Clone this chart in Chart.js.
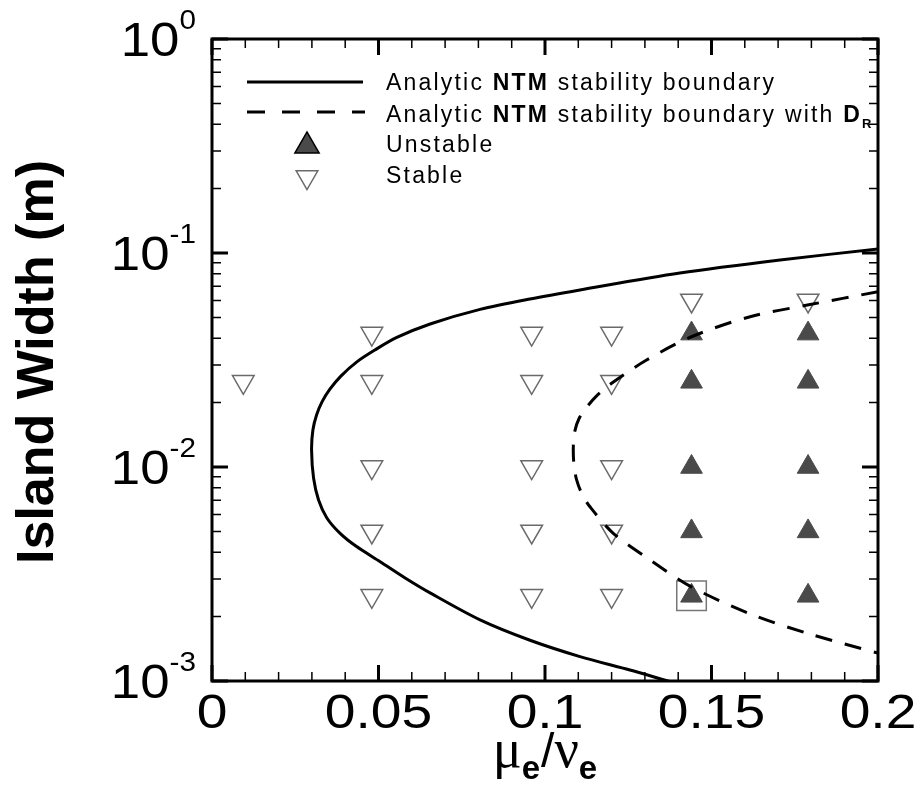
<!DOCTYPE html>
<html><head><meta charset="utf-8">
<script src="https://cdn.jsdelivr.net/npm/chart.js@4.4.1/dist/chart.umd.min.js"></script>
<style>html,body{margin:0;padding:0;background:#fff;}#wrap{width:918px;height:787px;}</style>
</head><body><div id="wrap"><canvas id="c" width="918" height="787"></canvas></div>
<script>
// ---- data ----
const solidX = [0.2000, 0.1706, 0.1405, 0.1105, 0.0955, 0.0805, 0.0655, 0.0555, 0.0489, 0.0435, 0.0387, 0.0354, 0.0330, 0.0314, 0.0303, 0.0299, 0.0305, 0.0320, 0.0345, 0.0384, 0.0432, 0.0505, 0.0580, 0.0655, 0.0805, 0.0955, 0.1105, 0.1255, 0.1369, 0.1465];
const solidY = [0.1044, 0.0928, 0.0806, 0.0672, 0.0610, 0.0545, 0.0466, 0.0403, 0.0352, 0.0310, 0.0266, 0.0231, 0.0201, 0.0175, 0.0149, 0.0120, 0.00888, 0.00701, 0.00578, 0.00491, 0.00427, 0.00361, 0.00303, 0.00258, 0.00193, 0.00155, 0.00130, 0.001125, 0.0010, 0.000908];
const dashX = [0.200, 0.1788, 0.1616, 0.1438, 0.1305, 0.1200, 0.1155, 0.1125, 0.1102, 0.1089, 0.1085, 0.1087, 0.1095, 0.1111, 0.1135, 0.1205, 0.1315, 0.1438, 0.1616, 0.1788, 0.200];
const dashY = [0.0659, 0.0571, 0.0504, 0.0405, 0.0316, 0.0246, 0.0215, 0.0190, 0.0168, 0.0146, 0.0123, 0.0102, 0.0087, 0.00748, 0.00652, 0.0049, 0.00368, 0.00276, 0.00206, 0.00167, 0.00135];
const unstableX = [0.144, 0.144, 0.144, 0.144, 0.144, 0.179, 0.179, 0.179, 0.179, 0.179];
const unstableY = [0.042, 0.025, 0.01, 0.005, 0.0025, 0.042, 0.025, 0.01, 0.005, 0.0025];
const stableX = [0.0094, 0.048, 0.048, 0.048, 0.048, 0.048, 0.096, 0.096, 0.096, 0.096, 0.096, 0.12, 0.12, 0.12, 0.12, 0.12, 0.144, 0.179];
const stableY = [0.025, 0.042, 0.025, 0.01, 0.005, 0.0025, 0.042, 0.025, 0.01, 0.005, 0.0025, 0.042, 0.025, 0.01, 0.005, 0.0025, 0.06, 0.06];
const highlightX = [0.144];
const highlightY = [0.0025];
const xTickValues = [0, 0.05, 0.1, 0.15, 0.2];
const xTickLabels = ['0', '0.05', '0.1', '0.15', '0.2'];
const yTickValues = [1, 0.1, 0.01, 0.001];
const yTickExponents = ['0', '-1', '-2', '-3'];
const legendLabels = ['Analytic NTM stability boundary', 'Analytic NTM stability boundary with D_R', 'Unstable', 'Stable'];
const yTitle = 'Island Width (m)';

const pts = (xs, ys) => xs.map((x, i) => ({x: x, y: ys[i]}));
const SANS = '"Liberation Sans", Arial, Helvetica, sans-serif';
const SERIF = '"Liberation Serif", "Times New Roman", serif';
const STABLE_COL = '#6a6a6a', UNSTABLE_COL = '#4a4a4a';

// draw a sequence of text runs, optionally stretched horizontally by sx
function drawRuns(ctx, runs, x, y, align, sx) {
  sx = sx || 1;
  let total = 0;
  runs.forEach(r => { ctx.font = r.font; r.w = ctx.measureText(r.text).width + (r.gap || 0); total += r.w; });
  ctx.save();
  ctx.translate(x, y); ctx.scale(sx, 1);
  let cx = align === 'center' ? -total / 2 : (align === 'right' ? -total : 0);
  ctx.textAlign = 'left';
  runs.forEach(r => { ctx.font = r.font; ctx.fillText(r.text, cx, r.dy || 0); cx += r.w; });
  ctx.restore();
}

const overlay = {
  id: 'overlay',
  afterDraw(chart) {
    const ctx = chart.ctx, a = chart.chartArea, xs = chart.scales.x, ys = chart.scales.y;
    ctx.save();
    ctx.fillStyle = '#000'; ctx.strokeStyle = '#000';
    const MAJ = 16, MIN = 9;
    function hTick(px, len, lw) {
      ctx.lineWidth = lw; ctx.beginPath();
      ctx.moveTo(px, a.bottom); ctx.lineTo(px, a.bottom - len);
      ctx.moveTo(px, a.top); ctx.lineTo(px, a.top + len); ctx.stroke();
    }
    function vTick(py, len, lw) {
      ctx.lineWidth = lw; ctx.beginPath();
      ctx.moveTo(a.left, py); ctx.lineTo(a.left + len, py);
      ctx.moveTo(a.right, py); ctx.lineTo(a.right - len, py); ctx.stroke();
    }
    for (let i = 0; i <= 20; i++) {
      if (i % 5 === 0) continue;
      hTick(xs.getPixelForValue(i / 100), MIN, 1.5);
    }
    xTickValues.forEach(v => hTick(xs.getPixelForValue(v), MAJ, 3));
    for (let e = -3; e < 0; e++) {
      for (let k = 2; k <= 9; k++) vTick(ys.getPixelForValue(k * Math.pow(10, e)), MIN, 1.5);
    }
    yTickValues.forEach(v => vTick(ys.getPixelForValue(v), MAJ, 3));
    ctx.lineWidth = 3;
    ctx.strokeRect(a.left, a.top, a.right - a.left, a.bottom - a.top);

    ctx.textBaseline = 'alphabetic';
    // y tick labels 10^n
    yTickValues.forEach((v, i) => {
      const py = ys.getPixelForValue(v);
      drawRuns(ctx, [
        {text: '10', font: '48px ' + SANS, dy: 17},
        {text: yTickExponents[i], font: '27px ' + SANS, dy: -10}
      ], a.left - 16, py, 'right', 1.1);
    });
    // x tick labels
    xTickValues.forEach((v, i) => drawRuns(ctx, [{text: xTickLabels[i], font: '48px ' + SANS}], xs.getPixelForValue(v), 728, 'center', 1.15));

    // x title  mu_e / nu_e
    drawRuns(ctx, [
      {text: '\u03bc', font: '54px ' + SERIF},
      {text: 'e', font: 'bold 33px ' + SANS, dy: 12, gap: 1},
      {text: '/', font: '48px ' + SANS},
      {text: '\u03bd', font: '54px ' + SERIF},
      {text: 'e', font: 'bold 33px ' + SANS, dy: 12}
    ], (a.left + a.right) / 2, 767, 'center', 1);

    // y title
    ctx.save();
    ctx.translate(53, 362); ctx.rotate(-Math.PI / 2);
    ctx.font = 'bold 52px ' + SANS; ctx.textAlign = 'center';
    ctx.fillText(yTitle, 0, 0);
    ctx.restore();

    // legend
    const tx = 386;
    ctx.lineWidth = 3; ctx.setLineDash([]);
    ctx.beginPath(); ctx.moveTo(247, 82); ctx.lineTo(363, 82); ctx.stroke();
    ctx.setLineDash([18, 17]);
    ctx.beginPath(); ctx.moveTo(247, 112); ctx.lineTo(365, 112); ctx.stroke();
    ctx.setLineDash([]);
    Chart.helpers.drawPoint(ctx, {pointStyle: 'triangle', radius: 12.5, rotation: 0, borderWidth: 1}, 307, 146);
    ctx.fillStyle = UNSTABLE_COL; ctx.strokeStyle = UNSTABLE_COL; ctx.fill();
    ctx.strokeStyle = STABLE_COL; ctx.fillStyle = '#fff'; ctx.lineWidth = 1.5;
    Chart.helpers.drawPoint(ctx, {pointStyle: 'triangle', radius: 12.5, rotation: 180, borderWidth: 1.5}, 307, 177);
    ctx.fillStyle = '#000';
    if ('letterSpacing' in ctx) ctx.letterSpacing = '2.2px';
    const f = '23px ' + SANS, fb = 'bold 23px ' + SANS;
    const parts0 = legendLabels[0].split('NTM');
    drawRuns(ctx, [{text: parts0[0], font: f}, {text: 'NTM', font: fb}, {text: parts0[1], font: f}], tx, 90, 'left');
    const parts1 = legendLabels[1].replace('D_R', '').split('NTM');
    drawRuns(ctx, [{text: parts1[0], font: f}, {text: 'NTM', font: fb}, {text: parts1[1], font: f},
                   {text: 'D', font: fb}, {text: 'R', font: 'bold 13px ' + SANS, dy: 6}], tx, 122, 'left');
    drawRuns(ctx, [{text: legendLabels[2], font: f}], tx, 152, 'left');
    drawRuns(ctx, [{text: legendLabels[3], font: f}], tx, 183, 'left');
    if ('letterSpacing' in ctx) ctx.letterSpacing = '0px';
    ctx.restore();
  }
};

new Chart(document.getElementById('c'), {
  type: 'scatter',
  data: {
    datasets: [
      {label: 'Analytic NTM stability boundary', data: pts(solidX, solidY), showLine: true, borderColor: '#000', borderWidth: 3, pointRadius: 0, tension: 0.3, fill: false},
      {label: 'Analytic NTM stability boundary with D_R', data: pts(dashX, dashY), showLine: true, borderColor: '#000', borderWidth: 3, borderDash: [17, 13], pointRadius: 0, tension: 0.3, fill: false},
      {label: 'Unstable', data: pts(unstableX, unstableY), pointStyle: 'triangle', pointRadius: 12.5, pointRotation: 0, backgroundColor: UNSTABLE_COL, borderColor: UNSTABLE_COL, borderWidth: 1},
      {label: 'Stable', data: pts(stableX, stableY), pointStyle: 'triangle', pointRadius: 12.5, pointRotation: 180, backgroundColor: 'rgba(255,255,255,0)', borderColor: STABLE_COL, borderWidth: 1.5},
      {label: 'highlight', data: pts(highlightX, highlightY), pointStyle: 'rect', pointRadius: 20.9, backgroundColor: 'rgba(0,0,0,0)', borderColor: '#777', borderWidth: 1.5}
    ]
  },
  options: {
    responsive: false, animation: false, devicePixelRatio: 1,
    layout: {padding: {left: 0, right: 40, top: 39, bottom: 0}},
    elements: {line: {capBezierPoints: false}},
    plugins: {legend: {display: false}, tooltip: {enabled: false}},
    scales: {
      x: {type: 'linear', min: 0, max: 0.2, ticks: {display: false}, grid: {display: false}, border: {display: false},
          afterFit(s) { s.height = 106; }},
      y: {type: 'logarithmic', min: 0.001, max: 1, ticks: {display: false}, grid: {display: false}, border: {display: false},
          afterFit(s) { s.width = 212; }}
    }
  },
  plugins: [overlay]
});
</script>
</body></html>
